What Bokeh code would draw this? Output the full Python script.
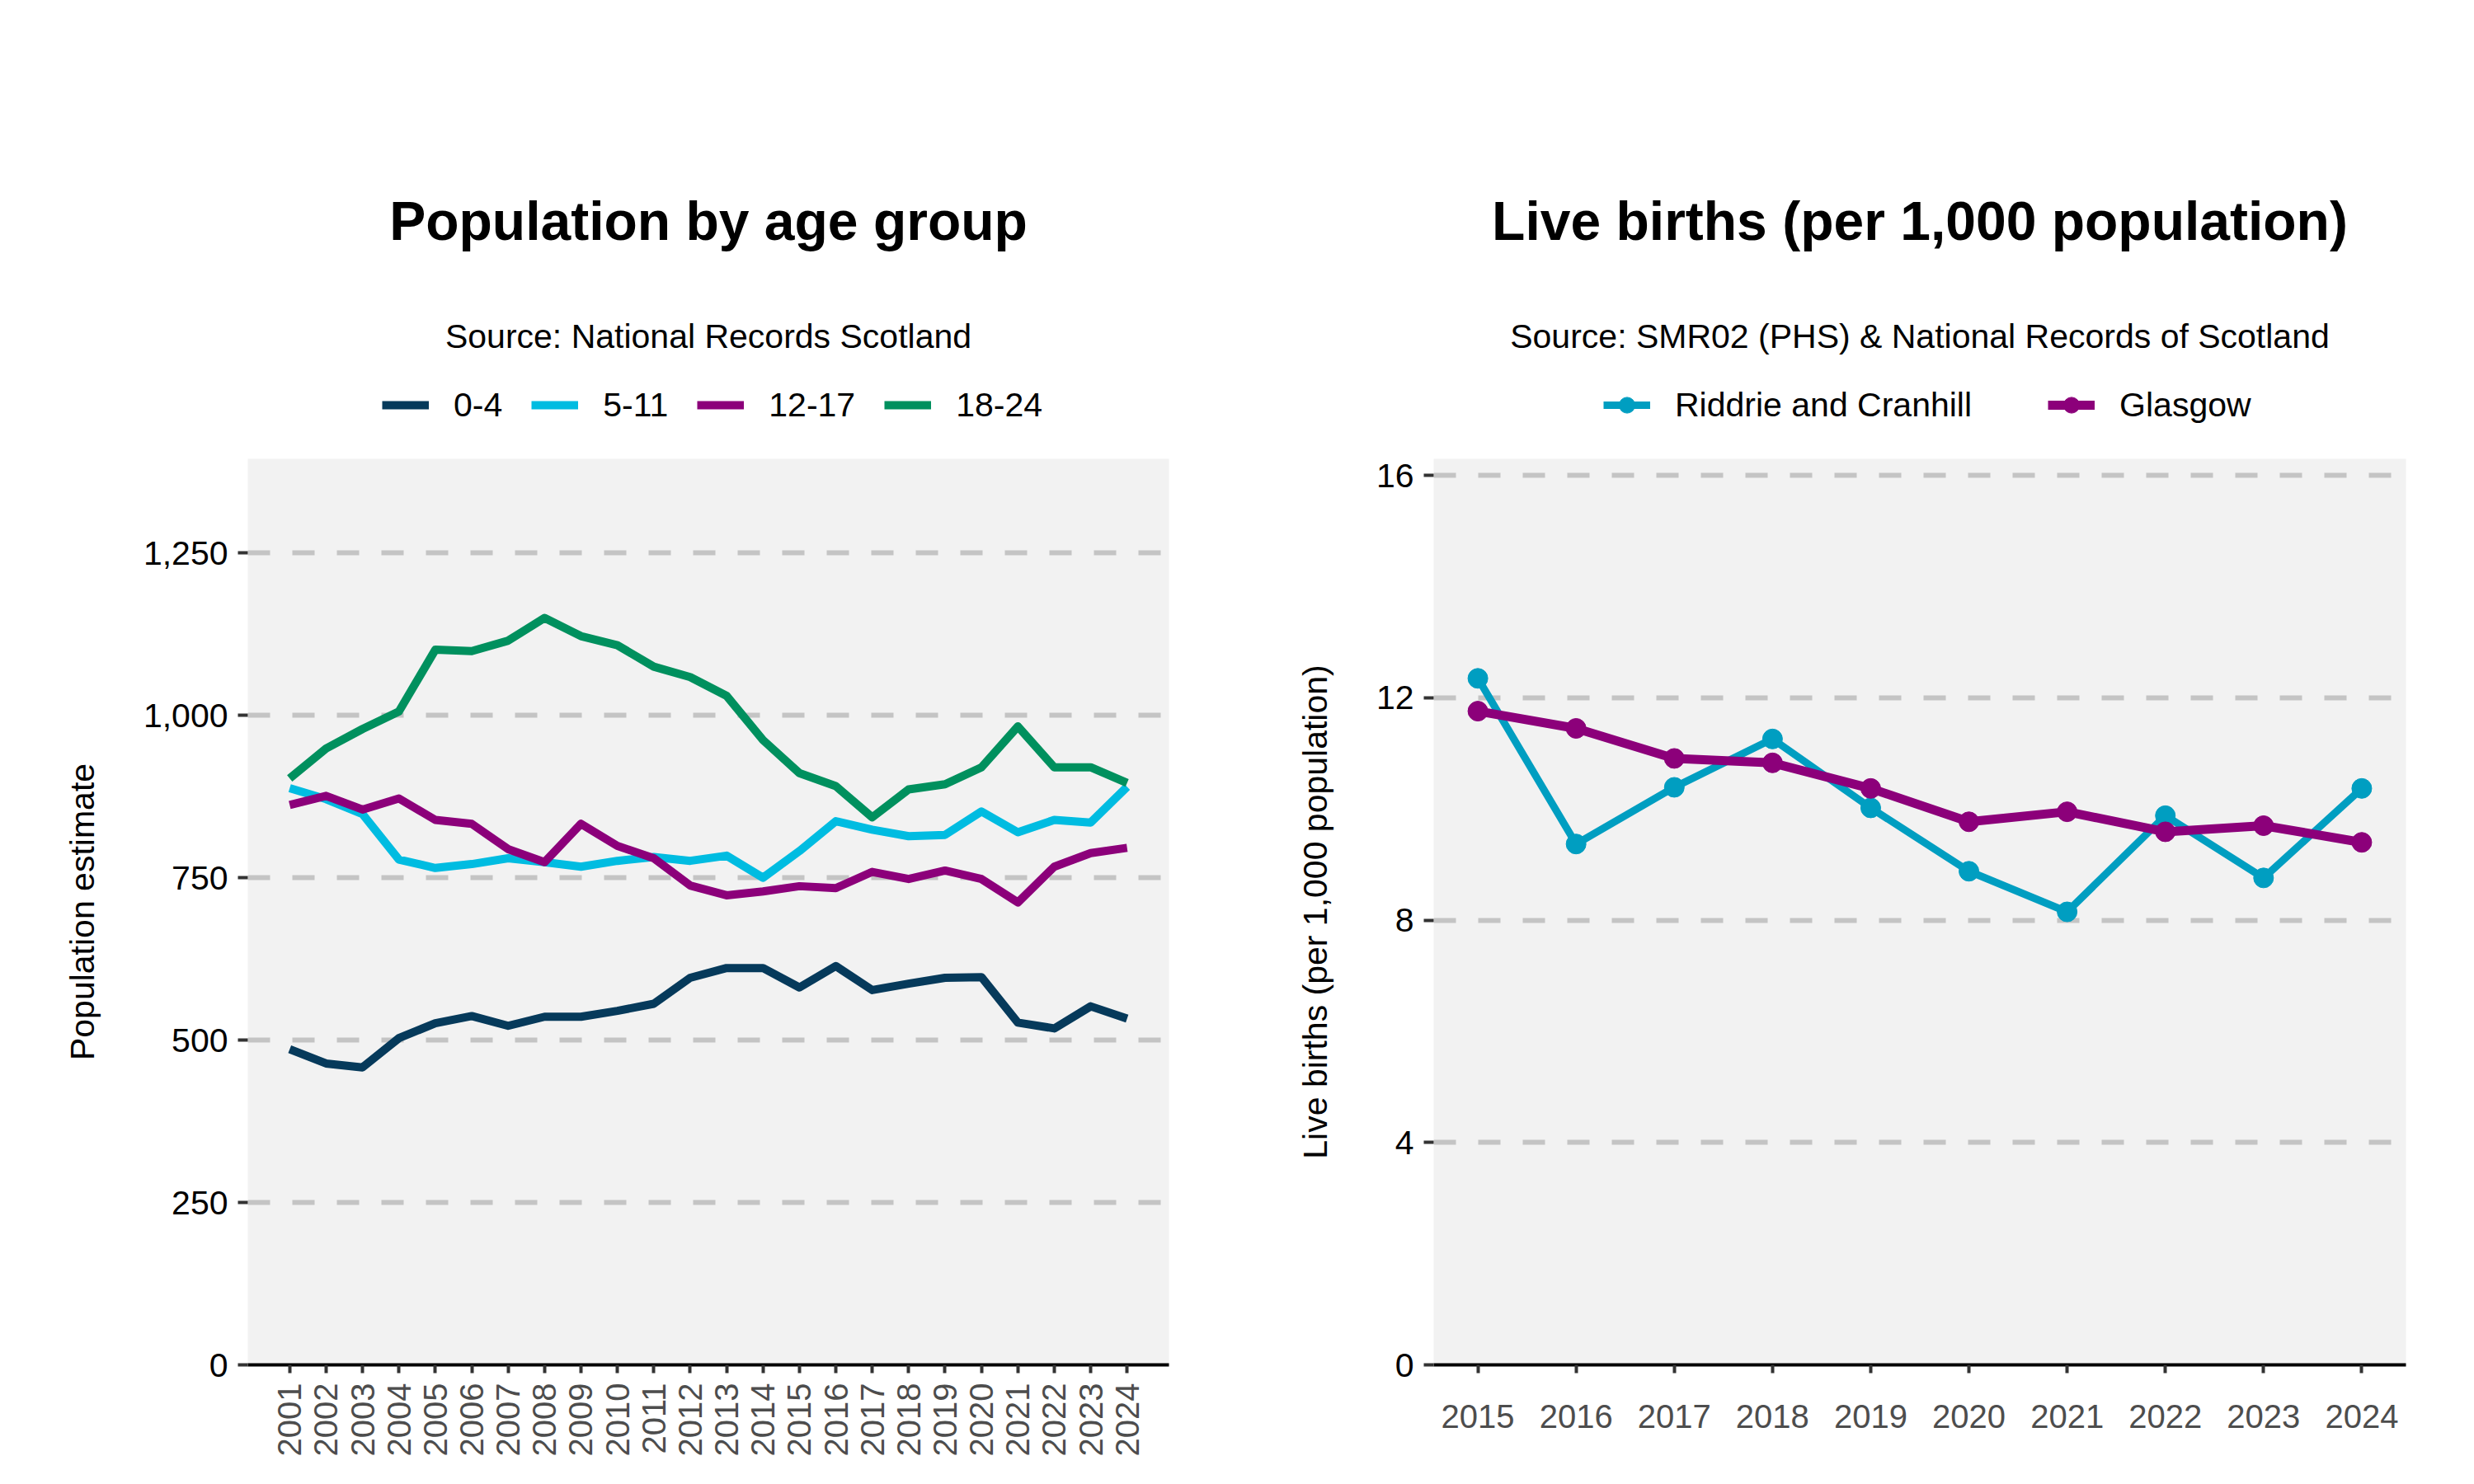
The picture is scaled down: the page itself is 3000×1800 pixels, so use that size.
import math
from bokeh.plotting import figure
from bokeh.models import (Range1d, FixedTicker, NumeralTickFormatter, Label,
                          Legend, LegendItem)
from bokeh.layouts import row, column
from bokeh.embed import file_html
from bokeh.resources import INLINE

# ---------------- data ----------------
years_pop = list(range(2001, 2025))
age_0_4 = [486, 464, 458, 503, 526, 537, 522, 536, 536, 545, 556, 596,
           611, 611, 581, 614, 577, 587, 596, 597, 527, 518, 552, 533]
age_5_11 = [888, 871, 848, 778, 765, 771, 780, 774, 767, 776, 782, 776,
            784, 750, 791, 837, 824, 814, 816, 852, 820, 839, 835, 890]
age_12_17 = [862, 876, 855, 872, 839, 833, 794, 774, 833, 799, 780, 738,
             723, 729, 737, 734, 759, 748, 761, 748, 712, 767, 788, 796]
age_18_24 = [903, 949, 979, 1006, 1101, 1099, 1115, 1150, 1122, 1108, 1075, 1059,
             1030, 962, 911, 891, 843, 886, 894, 920, 983, 920, 920, 896]
pop_series = ["0-4", "5-11", "12-17", "18-24"]
pop_ticks_y = [0, 250, 500, 750, 1000, 1250]

years_births = list(range(2015, 2025))
riddrie = [12.35, 9.37, 10.39, 11.26, 10.02, 8.88, 8.15, 9.88, 8.76, 10.37]
glasgow = [11.76, 11.45, 10.91, 10.83, 10.37, 9.77, 9.95, 9.59, 9.70, 9.40]
births_series = ["Riddrie and Cranhill", "Glasgow"]
births_ticks_y = [0, 4, 8, 12, 16]

# ---------------- style ----------------
FONT = "Liberation Sans"
C_NAVY = "#063A5B"
C_CYAN = "#00BCE1"
C_PURPLE = "#8C007A"
C_GREEN = "#00905E"
C_TEAL = "#009EC1"
PANEL = "#F2F2F2"
GRID = "#C4C4C4"

FIG_W = 1500
HEAD_H = 530          # header strip (titles + legend)
CHART_H = 1270        # chart strip
TOP, BOTTOM = 26, 145


def header_fig(left, right):
    # a text-only strip; its frame is aligned with the chart frame below it
    h = figure(width=FIG_W, height=HEAD_H, output_backend="svg", toolbar_location=None,
               x_range=Range1d(0, 1), y_range=Range1d(0, 1),
               x_axis_type=None, y_axis_type=None,
               min_border_left=left, min_border_right=right, min_border_top=0,
               min_border_bottom=0)
    h.xgrid.grid_line_color = None
    h.ygrid.grid_line_color = None
    h.outline_line_color = None
    h.background_fill_color = "white"
    h.border_fill_color = "white"
    return h


def add_header_text(h, frame_w, title, subtitle):
    # screen units: x from frame left, y up from the bottom of the strip
    h.add_layout(Label(x=frame_w / 2, y=HEAD_H - 267, x_units="screen", y_units="screen",
                       text=title, text_align="center",
                       text_baseline="alphabetic", text_font=FONT,
                       text_font_size="66px", text_font_style="bold",
                       text_color="black"))
    h.add_layout(Label(x=frame_w / 2, y=HEAD_H - 407, x_units="screen", y_units="screen",
                       text=subtitle, text_align="center",
                       text_baseline="alphabetic", text_font=FONT,
                       text_font_size="41px", text_font_style="normal",
                       text_color="black"))


def add_legend(h, items, lx, spacing):
    lg = Legend(items=items, orientation="horizontal",
                location=(lx, HEAD_H - 515),
                label_text_font=FONT, label_text_font_size="41px",
                label_text_color="black", glyph_width=57, glyph_height=48,
                label_height=48, label_standoff=30, spacing=spacing,
                padding=0, margin=0, border_line_color=None,
                background_fill_alpha=0)
    h.add_layout(lg)


def base_fig(xr, yr, left, right):
    p = figure(width=FIG_W, height=CHART_H, output_backend="svg", toolbar_location=None,
               x_range=xr, y_range=yr, min_border_left=left, min_border_right=right,
               min_border_top=TOP, min_border_bottom=BOTTOM)
    p.background_fill_color = PANEL
    p.border_fill_color = "white"
    p.outline_line_color = None
    p.xgrid.grid_line_color = None
    p.ygrid.grid_line_color = GRID
    p.ygrid.grid_line_width = 6
    p.ygrid.grid_line_dash = "27 27"
    # y axis
    p.yaxis.axis_line_color = None
    p.yaxis.major_tick_out = 12
    p.yaxis.major_tick_in = 0
    p.yaxis.major_tick_line_width = 4
    p.yaxis.major_tick_line_color = "#333333"
    p.yaxis.minor_tick_line_color = None
    p.yaxis.major_label_text_font = FONT
    p.yaxis.major_label_text_font_size = "41px"
    p.yaxis.major_label_text_color = "black"
    p.yaxis.major_label_standoff = 12
    p.yaxis.axis_label_text_font = FONT
    p.yaxis.axis_label_text_font_size = "41px"
    p.yaxis.axis_label_text_font_style = "normal"
    p.yaxis.axis_label_text_color = "black"
    p.yaxis.axis_label_standoff = 48
    # x axis
    p.xaxis.axis_line_color = "black"
    p.xaxis.axis_line_width = 4
    p.xaxis.major_tick_out = 10
    p.xaxis.major_tick_in = 0
    p.xaxis.major_tick_line_width = 4
    p.xaxis.major_tick_line_color = "#333333"
    p.xaxis.minor_tick_line_color = None
    p.xaxis.major_label_text_font = FONT
    p.xaxis.major_label_text_font_size = "40px"
    p.xaxis.major_label_text_color = "#4D4D4D"
    return p


# ---------------- left: population ----------------
L1, R1 = 300, 83
W1 = FIG_W - L1 - R1
p1 = base_fig(Range1d(1999.85, 2025.15), Range1d(0, 1395), L1, R1)
h1 = header_fig(L1, R1)
pop_vals = [age_0_4, age_5_11, age_12_17, age_18_24]
pop_cols = [C_NAVY, C_CYAN, C_PURPLE, C_GREEN]
items1 = []
for name, vals, col in zip(pop_series, pop_vals, pop_cols):
    p1.line(years_pop, vals, line_width=10, line_color=col, line_join="round")
    # legend key: same series in the header strip (falls outside its 0..1 ranges)
    key = h1.line(years_pop, vals, line_width=10, line_color=col)
    items1.append(LegendItem(label=name, renderers=[key]))
p1.xaxis.ticker = FixedTicker(ticks=years_pop)
p1.xaxis.major_label_orientation = math.pi / 2
p1.xaxis.major_label_standoff = 12
p1.yaxis.ticker = FixedTicker(ticks=pop_ticks_y)
p1.yaxis.formatter = NumeralTickFormatter(format="0,0")
p1.yaxis.axis_label = "Population estimate"
add_header_text(h1, W1, "Population by age group",
                "Source: National Records Scotland")
add_legend(h1, items1, 163, 35)

# ---------------- right: live births ----------------
L2, R2 = 238, 83
W2 = FIG_W - L2 - R2
p2 = base_fig(Range1d(2014.55, 2024.45), Range1d(0, 16.3), L2, R2)
h2 = header_fig(L2, R2)
items2 = []
for name, vals, col, lw in zip(births_series, [riddrie, glasgow],
                               [C_TEAL, C_PURPLE], [9, 11]):
    p2.line(years_births, vals, line_width=lw, line_color=col, line_join="round")
    p2.scatter(years_births, vals, size=24, fill_color=col, line_color=col)
    kl = h2.line(years_births, vals, line_width=lw, line_color=col)
    ks = h2.scatter(years_births, vals, size=24, fill_color=col, line_color=col)
    items2.append(LegendItem(label=name, renderers=[kl, ks]))
p2.xaxis.ticker = FixedTicker(ticks=years_births)
p2.xaxis.major_label_standoff = 38
p2.yaxis.ticker = FixedTicker(ticks=births_ticks_y)
p2.yaxis.axis_label = "Live births (per 1,000 population)"
add_header_text(h2, W2, "Live births (per 1,000 population)",
                "Source: SMR02 (PHS) & National Records of Scotland")
add_legend(h2, items2, 206, 92)

layout = row(column(h1, p1), column(h2, p2))
open("out.html", "w").write(file_html(layout, INLINE))
